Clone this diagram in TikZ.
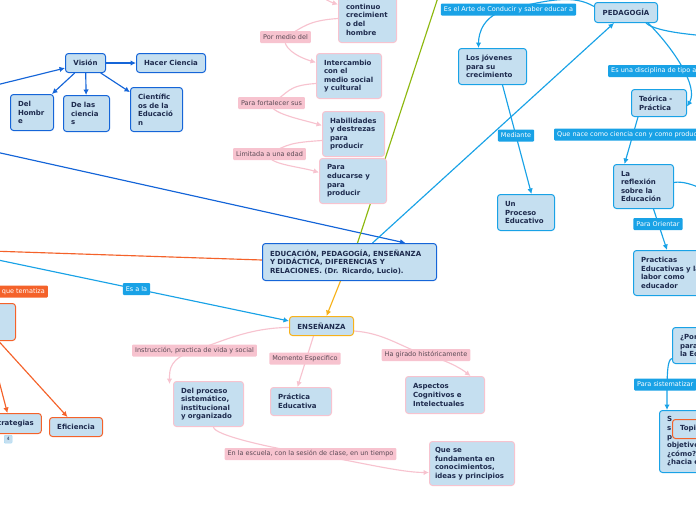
\documentclass[tikz,border=0pt]{standalone}
\usepackage{fontspec}
\setmainfont{DejaVu Sans}
\usepackage{tikz}
\usetikzlibrary{arrows.meta,backgrounds}

\definecolor{ideafill}{HTML}{C5DFF0}
\definecolor{ink}{HTML}{1E2B4E}
\definecolor{deepblue}{HTML}{1565D8}
\definecolor{skyblue}{HTML}{19A2E6}
\definecolor{rose}{HTML}{F7C3CF}
\definecolor{rosetext}{HTML}{5A4A55}
\definecolor{tangerine}{HTML}{F4622A}
\definecolor{amber}{HTML}{F7B21B}
\definecolor{olive}{HTML}{8DB80F}

\newcommand\ideafont{\bfseries\fontsize{7}{8.6}\selectfont}
\newcommand\tagfont{\fontsize{6.5}{7.5}\selectfont}

\begin{document}
\begin{tikzpicture}[
    x=1pt, y=-1pt,
    idea/.style={draw=#1, fill=ideafill, text=ink, font=\ideafont, rounded corners=3pt,
                 line width=1pt, inner xsep=7.5pt, inner ysep=2pt, align=left,
                 anchor=north west},
    tag/.style={fill=#1, text=white, font=\tagfont, rounded corners=1pt,
                inner xsep=3pt, inner ysep=0pt, minimum height=12pt},
    rosetag/.style={tag=rose, text=rosetext},
    link/.style={draw=#1, line width=1.15pt, -{Latex[length=5.5pt,width=5.5pt]}}
]
\useasboundingbox (0,0) rectangle (696,520);

% free ends of connectors that leave the picture
\coordinate (srcVision) at (-40,94);
\coordinate (srcMain)   at (-40,144);
\coordinate (srcEns)    at (-40,252);
\coordinate (dstLeft)   at (-40,250);
\coordinate (dstTop)    at (447,-30);
\coordinate (srcCrec)   at (300,-15);
\coordinate (dstRight1) at (740,37);
\coordinate (dstRight2) at (730,205);

% Vision branch
\node[idea=deepblue, minimum width=40pt, minimum height=19pt, align=center] (vision) at (65,53) {Visión};
\node[idea=deepblue, minimum width=69pt, minimum height=19pt, align=center] (ciencia) at (136,53) {Hacer Ciencia};
\node[idea=deepblue, text width=28pt, minimum height=36pt] (hombre) at (10,94) {Del\\Hombr\\e};
\node[idea=deepblue, text width=31pt, minimum height=36pt] (ciencias) at (63,95) {De las\\ciencia\\s};
\node[idea=deepblue, text width=37pt, minimum height=44pt] (cientificos) at (130,87) {Científic\\os de la\\Educació\\n};

% pink chain
\node[idea=rose, text width=43pt, minimum height=53pt] (crec) at (338,-11) {un\\continuo\\crecimient\\o del\\hombre};
\node[idea=rose, text width=50pt, minimum height=45pt] (inter) at (316,53) {Intercambio\\con el\\medio social\\y cultural};
\node[idea=rose, text width=47pt, minimum height=45pt] (habil) at (322,111) {Habilidades\\y destrezas\\para\\producir};
\node[idea=rose, text width=52pt, minimum height=45pt] (educ) at (319,158) {Para\\educarse y\\para\\producir};
\node[rosetag] (pormedio)   at (285.5,37) {Por medio del};
\node[rosetag] (fortalecer) at (271.5,103) {Para fortalecer sus};
\node[rosetag] (limitada)   at (269.5,154) {Limitada a una edad};

% central topic
\node[idea=deepblue, text width=159pt, minimum height=37pt] (main) at (262,243)
    {EDUCACIÓN, PEDAGOGÍA, ENSEÑANZA\\Y DIDÁCTICA, DIFERENCIAS Y\\RELACIONES. (Dr. Ricardo, Lucio).};

% Enseñanza branch
\node[idea=amber, minimum width=64pt, minimum height=19pt, align=center] (ensenanza) at (289,316) {ENSEÑANZA};
\node[idea=rose, text width=55pt, minimum height=45pt] (proceso) at (173,381) {Del proceso\\sistemático,\\institucional\\y organizado};
\node[idea=rose, text width=46pt, minimum height=28pt] (practica) at (270,387) {Práctica\\Educativa};
\node[idea=rose, text width=64pt, minimum height=37pt] (aspectos) at (405,376) {Aspectos\\Cognitivos e\\Intelectuales};
\node[idea=rose, text width=74pt, inner xsep=5.5pt, minimum height=44pt] (fundamenta) at (429,441) {Que se\\fundamenta en\\conocimientos,\\ideas y principios};
\node[rosetag] (instruccion) at (194.5,350.5) {Instrucción, practica de vida y social};
\node[rosetag] (momento)     at (305,358.5) {Momento Especifico};
\node[rosetag] (girado)      at (426,355) {Ha girado históricamente};
\node[rosetag] (escuela)     at (310.5,454) {En la escuela, con la sesión de clase, en un tiempo};
\node[tag=skyblue] (esala)   at (136.5,289) {Es a la};

% orange branch
\node[tag=tangerine, anchor=east] (tematiza) at (48,291.5) {que tematiza};
\node[idea=tangerine, minimum width=70pt, minimum height=37pt] (temas) at (-55,303) {};
\node[idea=tangerine, minimum width=56pt, minimum height=20pt, align=center] (estrategias) at (-19,413) {Estrategias};
\node[idea=tangerine, minimum width=53pt, minimum height=19pt, align=center] (eficiencia) at (49,417) {Eficiencia};
\node[draw=skyblue!40, fill=ideafill, text=ink, font=\fontsize{4.5}{5}\selectfont, rounded corners=1pt,
      minimum size=8pt, inner sep=0pt, anchor=north west] (count) at (4,435) {4};

% Pedagogia branch
\node[idea=skyblue, minimum width=63pt, minimum height=20pt, align=center] (pedagogia) at (594,2) {PEDAGOGÍA};
\node[idea=skyblue, text width=53pt, minimum height=36pt] (jovenes) at (458,48) {Los jóvenes\\para su\\crecimiento};
\node[idea=skyblue, text width=42pt, minimum height=36pt] (unproceso) at (497,194) {Un\\Proceso\\Educativo};
\node[idea=skyblue, text width=40pt, minimum height=27pt] (teorica) at (631,89) {Teórica -\\Práctica};
\node[idea=skyblue, text width=45pt, minimum height=44pt] (reflexion) at (613,164) {La\\reflexión\\sobre la\\Educación};
\node[idea=skyblue, text width=67pt, minimum height=45pt] (practicas) at (633,250) {Practicas\\Educativas y la\\labor como\\educador};
\node[idea=skyblue, text width=40pt, minimum height=36pt] (porque) at (672,327) {¿Por\\para\\la Ed};
\node[idea=skyblue, text width=40pt, minimum height=62pt] (objetivo) at (659,410) {S\\s\\p\\objetivo\\¿cómo?\\¿hacia e};
\node[idea=tangerine, text width=30pt, minimum height=19pt] (topi) at (672,419) {Topi};
\node[tag=skyblue] (arte) at (508.5,9.5) {Es el Arte de Conducir y saber educar a};
\node[tag=skyblue] (mediante) at (516,135.5) {Mediante};
\node[tag=skyblue, anchor=west] (disciplina) at (608,71) {Es una disciplina de tipo a};
\node[tag=skyblue, anchor=west] (nace) at (554,134.5) {Que nace como ciencia con y como produc};
\node[tag=skyblue] (orientar) at (658,224) {Para Orientar};
\node[tag=skyblue, anchor=west] (sistematizar) at (634,384.5) {Para sistematizar};

\begin{scope}[on background layer]
% vision
\draw[link=deepblue] (srcVision) -- (vision);
\draw[link=deepblue] (vision) -- (ciencia);
\draw[link=deepblue] (vision) -- (hombre);
\draw[link=deepblue] (vision) -- (ciencias);
\draw[link=deepblue] (vision) -- (cientificos);
\draw[link=deepblue] (srcMain) -- ([xshift=56pt]main.north);

% central topic
\draw[link=olive] ([xshift=8pt]main.north) -- (dstTop);
\draw[link=skyblue] ([xshift=23pt]main.north) -- ([xshift=-12pt]pedagogia.south);
\draw[link=tangerine] ([yshift=2pt]main.west) -- (dstLeft);
\draw[link=amber] ([xshift=-9pt]main.south) -- ([xshift=5pt]ensenanza.north);
\draw[link=skyblue] (srcEns) -- ([yshift=5pt]ensenanza.west);

% pink chain
\draw[link=rose] (srcCrec) .. controls +(15,5) and +(-15,-5) .. ([yshift=11.5pt]crec.west);
\draw[link=rose] ([yshift=-2.5pt]crec.west) .. controls +(-30,2) and +(18,-10) .. (pormedio.center)
    .. controls +(-4,10) and +(-20,-6) .. ([yshift=13.5pt]inter.west);
\draw[link=rose] ([yshift=-7.5pt]inter.west) .. controls +(-30,2) and +(18,-10) .. (fortalecer.center)
    .. controls +(-4,10) and +(-20,-6) .. ([yshift=8.5pt]habil.west);
\draw[link=rose] ([yshift=-6.5pt]habil.west) .. controls +(-30,2) and +(18,-10) .. (limitada.center)
    .. controls +(-4,10) and +(-20,-6) .. ([yshift=8.5pt]educ.west);

% ensenanza
\draw[link=rose] ([yshift=-1.5pt]ensenanza.west) .. controls +(-40,0) and +(25,-8) .. (instruccion.center)
    .. controls +(-25,8) and +(0,-15) .. ([xshift=-3.5pt,yshift=-3pt]proceso.north west);
\draw[link=rose] ([xshift=-8pt]ensenanza.south) -- ([xshift=-3.5pt]practica.north);
\draw[link=rose] ([yshift=-5pt]ensenanza.east) .. controls +(30,2) and +(-25,-8) .. (girado.center)
    .. controls +(20,5) and +(-10,-8) .. ([xshift=25.5pt]aspectos.north);
\draw[link=rose] ([xshift=5pt]proceso.south) .. controls +(0,8) and +(-40,-6) .. (escuela.center)
    .. controls +(40,6) and +(-30,0) .. ([yshift=-9pt]fundamenta.west);

% orange
\draw[link=tangerine] ([xshift=8pt]temas.south) -- ([xshift=-4pt]estrategias.north);
\draw[link=tangerine] ([xshift=18pt]temas.south) -- ([xshift=-8.5pt]eficiencia.north);

% pedagogia
\draw[link=skyblue] ([yshift=6pt]pedagogia.west) .. controls +(-20,-12) and +(40,-10) .. (arte.center)
    .. controls +(-25,5) and +(0,-15) .. ([xshift=-14pt]jovenes.north);
\draw[link=skyblue] ([xshift=10pt]jovenes.south) -- ([xshift=5.5pt]unproceso.north);
\draw[link=skyblue] ([xshift=22pt]pedagogia.south) .. controls +(25,25) and +(12,-20) .. ([yshift=-3.5pt]teorica.east);
\draw[link=skyblue] ([xshift=20pt]pedagogia.south) .. controls +(10,10) and +(-30,0) .. (dstRight1);
\draw[link=skyblue] ([xshift=-21pt]teorica.south) -- ([xshift=-19pt]reflexion.north);
\draw[link=skyblue] ([yshift=4pt]reflexion.east) .. controls +(15,-3) and +(-15,-10) .. (dstRight2);
\draw[link=skyblue] ([xshift=10pt]reflexion.south) -- ([xshift=34pt]practicas.north west);
\draw[link=skyblue] ([yshift=-13pt]porque.west) .. controls +(-5,1) and +(0,-35) .. ([xshift=8pt]objetivo.north west);
\end{scope}
\end{tikzpicture}
\end{document}
